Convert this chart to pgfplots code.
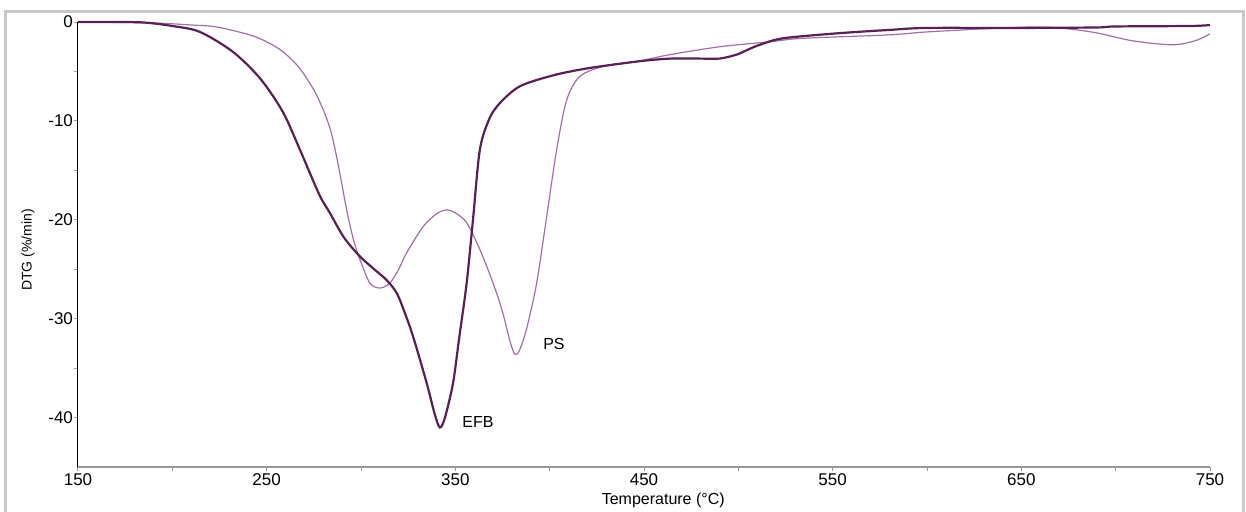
\documentclass[border=0pt]{standalone}
\usepackage{fontspec}
\setmainfont{Liberation Sans}
\usepackage{pgfplots}
\pgfplotsset{compat=1.18}
\definecolor{efb}{RGB}{88,32,84}
\definecolor{ps}{RGB}{160,112,168}
\definecolor{framegray}{RGB}{200,200,200}
\begin{document}
\begin{tikzpicture}
\useasboundingbox (-39pt,-22pt) rectangle (584pt,233.5pt);
\draw[framegray, line width=1.5pt] (-36pt,228pt) rectangle (582.5pt,-27pt);
\begin{axis}[
  scale only axis, width=566pt, height=222.5pt,
  xmin=150, xmax=750, ymin=-45, ymax=0,
  clip=false,
  axis x line*=bottom, axis y line*=left,
  x axis line style={draw=gray!80, line width=0.6pt},
  y axis line style={draw=black, line width=0.5pt},
  xtick={150,250,...,750}, minor xtick={200,300,...,700},
  ytick={0,-10,-20,-30,-40}, minor ytick={-5,-15,-25,-35},
  tick align=outside,
  major tick length=2pt, minor tick length=2pt,
  every tick/.style={draw=gray!80, line width=0.5pt},
  minor tick style={draw=gray!80, line width=0.5pt},
  /pgf/number format/assume math mode=true,
  xticklabel style={font=\fontsize{8.5}{10}\selectfont, yshift=2pt},
  yticklabel style={font=\fontsize{8.5}{10}\selectfont, xshift=3pt},
  xlabel={Temperature (°C)}, ylabel={DTG (\%/min)},
  x label style={font=\fontsize{8}{10}\selectfont, at={(axis description cs:0.517,0)}, anchor=center, yshift=-16.5pt},
  y label style={font=\fontsize{7}{9}\selectfont, at={(axis description cs:0,0.488)}, anchor=center, rotate=0, yshift=25pt},
]
\addplot[ps, line width=0.6pt, smooth, tension=0.5] coordinates {
(150,0) (190,-0.1) (210,-0.3) (223.5,-0.5) (241,-1.3) (250,-2.0) (258.6,-3.0) (267.6,-4.7)
(276.5,-7.4) (283.5,-10.7) (288,-14.5) (292.4,-19.0) (296,-22.0) (299.4,-24.0) (304.7,-26.4)
(310,-26.9) (315.3,-26.4) (320,-25.0) (324,-23.4) (332.9,-20.7) (340,-19.4) (345.3,-19.0)
(350,-19.3) (356,-20.3) (363,-23.0) (370,-26.4) (375,-29.3) (379,-32.3) (381.6,-33.6) (384,-33.2)
(387.8,-31.0) (393.1,-26.4) (398.4,-19.7) (403.7,-12.9) (409,-7.9) (416,-5.5) (428.4,-4.5)
(446,-4.0) (463.7,-3.3) (490.2,-2.5) (516.7,-2.0) (534,-1.65) (580,-1.3) (600,-1.0)
(640,-0.6) (660,-0.5) (675,-0.7) (690,-1.1) (709,-1.9) (730,-2.3) (742,-1.9) (750,-1.2)
};
\addplot[efb, line width=1.1pt, smooth, tension=0.5] coordinates {
(150,0) (170,0) (185,-0.05) (200,-0.4) (214.6,-1.0) (232,-3.0) (246.5,-5.7) (258.6,-9.1)
(267.6,-12.9) (278,-17.5) (283.5,-19.3) (291,-21.8) (299.4,-23.7) (307,-25.0) (313.6,-26.1)
(318.9,-27.4) (323,-29.3) (327.6,-31.8) (334.8,-36.5) (339,-39.6) (341.8,-41.0) (344.5,-40.0)
(348.8,-36.5) (352,-32.0) (356,-26.4) (359.5,-19.7) (363,-12.9) (368,-9.8) (373.6,-8.2)
(384.2,-6.5) (401.7,-5.4) (419.6,-4.7) (446,-4.0) (463.7,-3.7) (480,-3.7) (490,-3.7)
(499,-3.3) (505,-2.8) (511.4,-2.3) (523.6,-1.65) (552,-1.15) (580,-0.8) (600,-0.6)
(650,-0.6) (690,-0.55) (700,-0.45) (740,-0.4) (750,-0.3)
};
\node[anchor=west, font=\fontsize{8}{10}\selectfont, inner sep=0pt] at (axis cs:353.5,-40.4) {EFB};
\node[anchor=west, font=\fontsize{8}{10}\selectfont, inner sep=0pt] at (axis cs:396.4,-32.6) {PS};
\end{axis}
\end{tikzpicture}
\end{document}
